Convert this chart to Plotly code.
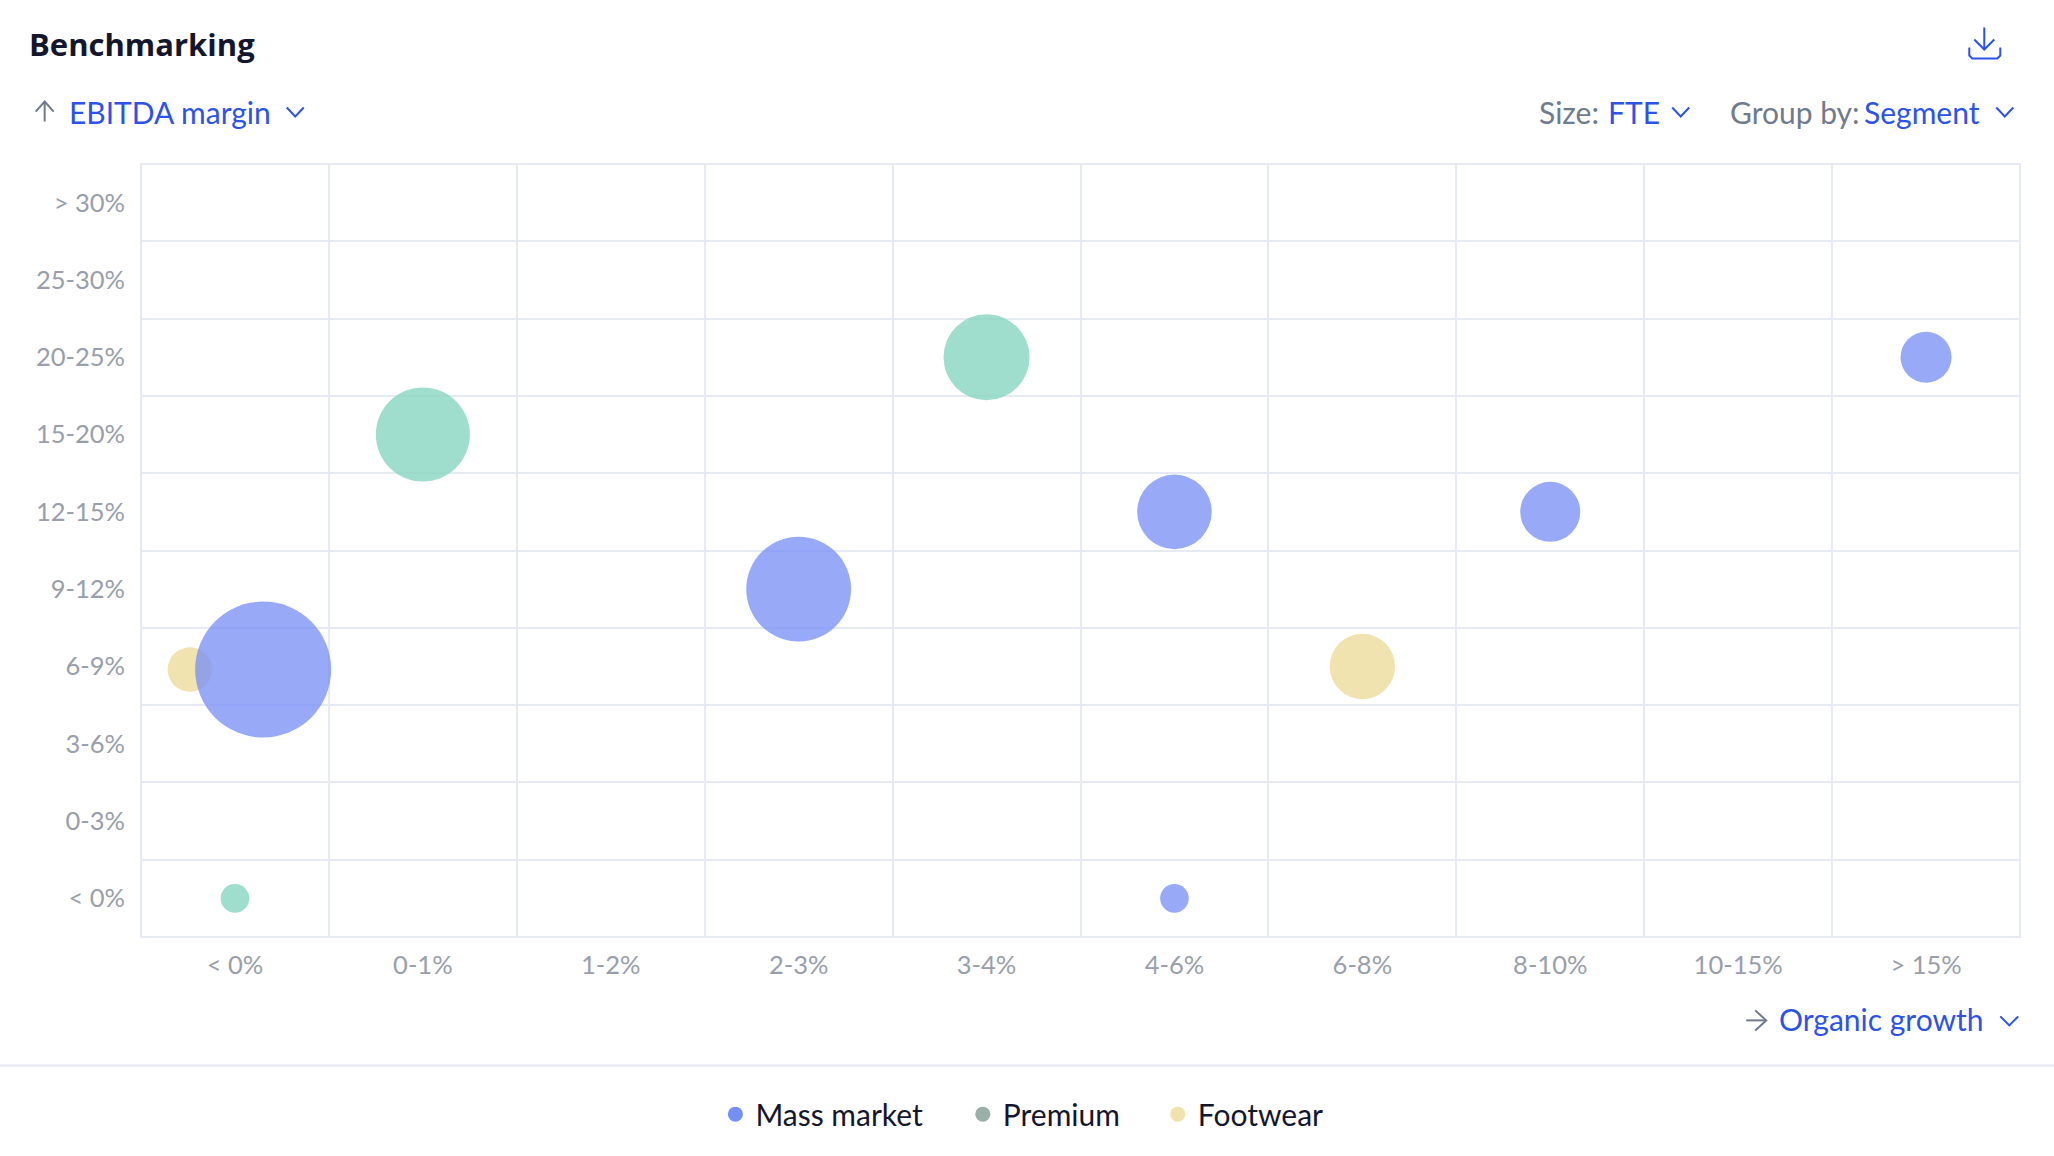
import plotly.graph_objects as go

# ---- data ----
x_labels = ["< 0%", "0-1%", "1-2%", "2-3%", "3-4%", "4-6%", "6-8%", "8-10%", "10-15%", "> 15%"]
y_labels = ["< 0%", "0-3%", "3-6%", "6-9%", "9-12%", "12-15%", "15-20%", "20-25%", "25-30%", "> 30%"]

mass_x = [0.15, 3, 5, 7, 9, 5]
mass_y = [2.96, 4, 5, 5, 7, 0]
mass_fte = [925, 549, 278, 180, 130, 41]

premium_x = [1, 4, 0]
premium_y = [6, 7, 0]
premium_fte = [442, 370, 41]

footwear_x = [-0.24, 6]
footwear_y = [2.96, 3]
footwear_fte = [99, 214]

W, H = 2054, 1156
L, R, T, B = 141.3, 2019.7, 164.4, 936.7
BLUE, GREY, INK, GRID = "#2D52E8", "#6F7A8C", "#14162E", "#E6EAF4"
FONT = "Lato"


def px(x):
    return (x - L) / (R - L)


def py(y):
    return (B - y) / (B - T)


def note(x, y, text, color, size=30, anchor="left", family=FONT):
    return dict(
        xref="paper", yref="paper", x=px(x), y=py(y), text=text, showarrow=False,
        xanchor=anchor, yanchor="middle", borderpad=0,
        font=dict(family=family, size=size, color=color),
    )


def stroke(points, color, close=False):
    d = "M " + " L ".join(f"{px(a):.5f},{py(b):.5f}" for a, b in points)
    return dict(type="path", xref="paper", yref="paper", path=d,
                line=dict(color=color, width=2), layer="above")


def chevron(x0, x1, y0, y1):
    return stroke([(x0, y0), ((x0 + x1) / 2, y1), (x1, y0)], BLUE)


fig = go.Figure()
for name, xs, ys, sizes, color, alpha in [
    ("Footwear", footwear_x, footwear_y, footwear_fte, "#F0E2AC", 0.95),
    ("Premium", premium_x, premium_y, premium_fte, "#8AD6C2", 0.82),
    ("Mass market", mass_x, mass_y, mass_fte, "#758CF5", 0.75),
]:
    fig.add_trace(go.Scatter(
        x=xs, y=ys, mode="markers", name=name, showlegend=False,
        marker=dict(size=sizes, sizemode="area", sizeref=0.1, color=color,
                    opacity=alpha, line=dict(width=0)),
    ))

for name, color, width in [
    ("Mass market", "#7590F5", 202.4),
    ("Premium", "#9AAFA8", 150),
    ("Footwear", "#F0E2AC", 170),
]:
    fig.add_trace(go.Scatter(
        x=[None], y=[None], mode="markers", name=name, legendwidth=width,
        marker=dict(size=15, color=color),
    ))


def axis_style(labels):
    n = len(labels)
    return dict(
        range=[-0.5, n - 0.5], tickmode="array", tickvals=list(range(n)), ticktext=labels,
        showgrid=False, zeroline=False, ticks="", showline=False,
        minor=dict(tickmode="array", tickvals=[i - 0.5 for i in range(n + 1)],
                   showgrid=True, gridcolor=GRID, gridwidth=2, ticks=""),
        tickfont=dict(family=FONT, size=25.5, color="#989EAB"),
        fixedrange=True,
    )


shapes = [
    # frame round the plot area
    dict(type="rect", xref="paper", yref="paper", x0=0, x1=1, y0=0, y1=1,
         line=dict(color=GRID, width=2), layer="below"),
    # separator above the legend
    dict(type="line", xref="paper", yref="paper", x0=px(0), x1=px(W), y0=py(1065), y1=py(1065),
         line=dict(color="#E3E7F0", width=2)),
    # y axis arrow
    stroke([(45, 122), (45, 103)], GREY),
    stroke([(36, 112), (45, 102), (54, 112)], GREY),
    chevron(287, 304, 108, 117),
    chevron(1672, 1689, 108, 117),
    chevron(1996, 2013, 108, 117),
    # x axis arrow
    stroke([(1746, 1020), (1765, 1020)], GREY),
    stroke([(1755, 1010), (1766, 1020), (1755, 1030)], GREY),
    chevron(2000, 2018, 1016, 1025),
    # download icon
    stroke([(1984, 28), (1984, 50)], BLUE),
    stroke([(1974, 40), (1984, 50), (1994, 40)], BLUE),
    stroke([(1969, 48), (1969, 56), (1972, 59), (1997, 59), (2000, 56), (2000, 48)], BLUE),
]

annotations = [
    note(28, 44.5, "<b>Benchmarking</b>", INK, size=31, family="Open Sans"),
    note(68, 112, "EBITDA margin", BLUE),
    note(1538, 112, "Size:", GREY),
    note(1607, 112, "FTE", BLUE),
    note(1729, 112, "Group by:", GREY),
    note(1863, 112, "Segment", BLUE),
    note(1778, 1019, "Organic growth", BLUE),
]

fig.update_layout(
    width=W, height=H, autosize=False,
    margin=dict(l=L, r=W - R, t=T, b=H - B),
    paper_bgcolor="white", plot_bgcolor="white",
    xaxis={**axis_style(x_labels), "ticklabelstandoff": 10},
    yaxis={**axis_style(y_labels), "ticklabelstandoff": 15},
    shapes=shapes, annotations=annotations,
    legend=dict(orientation="h", x=px(715.5), y=py(1113.7), xanchor="left", yanchor="middle",
                font=dict(family=FONT, size=30, color=INK), itemsizing="trace",
                bgcolor="rgba(0,0,0,0)"),
    hovermode=False,
)

fig.write_html("out.html", config=dict(displayModeBar=False),
               post_script="document.body.style.margin='0';")
